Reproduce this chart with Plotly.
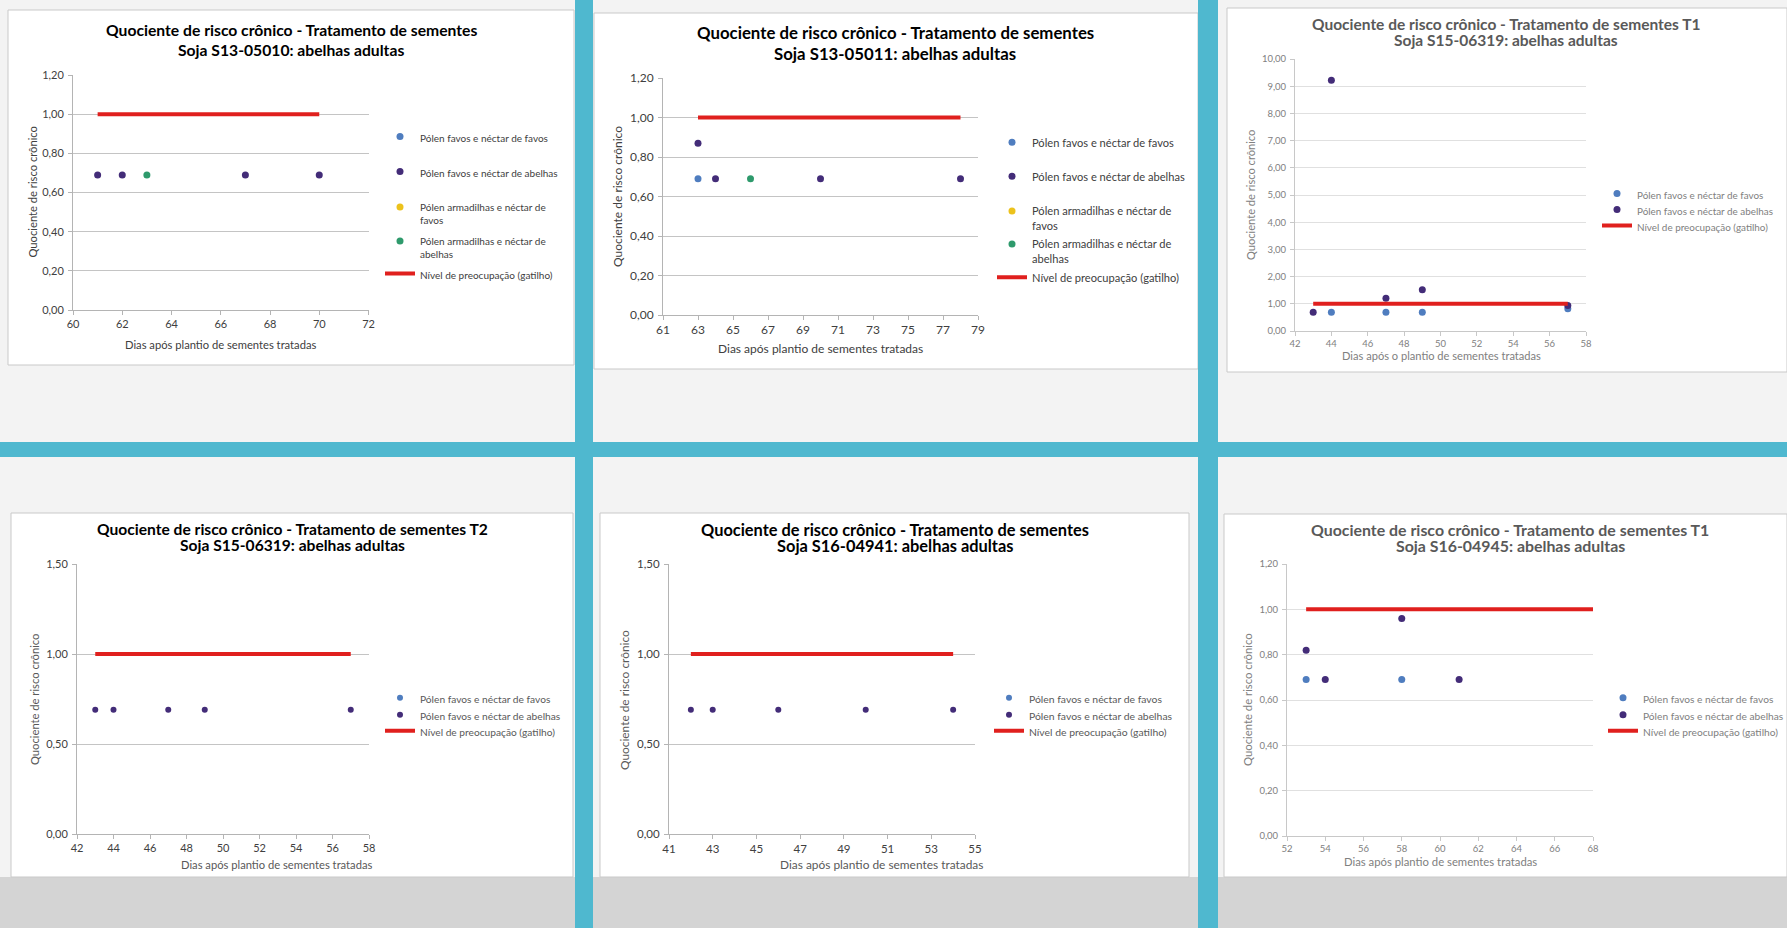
import plotly.graph_objects as go

W, H = 1787, 928
FONT = "Lato"

# ---- text ----
TITLE_LINE1 = [
    "Quociente de risco crônico - Tratamento de sementes",
    "Quociente de risco crônico - Tratamento de sementes",
    "Quociente de risco crônico - Tratamento de sementes T1",
    "Quociente de risco crônico - Tratamento de sementes T2",
    "Quociente de risco crônico - Tratamento de sementes",
    "Quociente de risco crônico - Tratamento de sementes T1",
]
TITLE_LINE2 = [
    "Soja S13-05010: abelhas adultas",
    "Soja S13-05011: abelhas adultas",
    "Soja S15-06319: abelhas adultas",
    "Soja S15-06319: abelhas adultas",
    "Soja S16-04941: abelhas adultas",
    "Soja S16-04945: abelhas adultas",
]
Y_TITLE = "Quociente de risco crônico"
X_TITLES = [
    "Dias após plantio de sementes tratadas",
    "Dias após plantio de sementes tratadas",
    "Dias após o plantio de sementes tratadas",
    "Dias após plantio de sementes tratadas",
    "Dias após plantio de sementes tratadas",
    "Dias após plantio de sementes tratadas",
]

NAME_FAVOS = "Pólen favos e néctar de favos"
NAME_ABELHAS = "Pólen favos e néctar de abelhas"
NAME_ARM_FAVOS = "Pólen armadilhas e néctar de<br>favos"
NAME_ARM_ABELHAS = "Pólen armadilhas e néctar de<br>abelhas"
NAME_GATILHO = "Nível de preocupação (gatilho)"

# ---- data: days after planting (x) and chronic risk quotient (y) ----
# Soja S13-05010
p1_favos_x, p1_favos_y = [], []
p1_abelhas_x, p1_abelhas_y = [61, 62, 67, 70], [0.69, 0.69, 0.69, 0.69]
p1_arm_favos_x, p1_arm_favos_y = [], []
p1_arm_abelhas_x, p1_arm_abelhas_y = [63], [0.69]
p1_gatilho_x, p1_gatilho_y = [61, 70], [1.00, 1.00]

# Soja S13-05011
p2_favos_x, p2_favos_y = [63], [0.69]
p2_abelhas_x, p2_abelhas_y = [63, 64, 70, 78], [0.87, 0.69, 0.69, 0.69]
p2_arm_favos_x, p2_arm_favos_y = [], []
p2_arm_abelhas_x, p2_arm_abelhas_y = [66], [0.69]
p2_gatilho_x, p2_gatilho_y = [63, 78], [1.00, 1.00]

# Soja S15-06319 T1
p3_favos_x, p3_favos_y = [44, 47, 49, 57], [0.69, 0.69, 0.69, 0.82]
p3_abelhas_x, p3_abelhas_y = [43, 44, 47, 49, 57], [0.69, 9.22, 1.20, 1.52, 0.94]
p3_gatilho_x, p3_gatilho_y = [43, 57], [1.00, 1.00]

# Soja S15-06319 T2
p4_favos_x, p4_favos_y = [], []
p4_abelhas_x, p4_abelhas_y = [43, 44, 47, 49, 57], [0.69, 0.69, 0.69, 0.69, 0.69]
p4_gatilho_x, p4_gatilho_y = [43, 57], [1.00, 1.00]

# Soja S16-04941
p5_favos_x, p5_favos_y = [], []
p5_abelhas_x, p5_abelhas_y = [42, 43, 46, 50, 54], [0.69, 0.69, 0.69, 0.69, 0.69]
p5_gatilho_x, p5_gatilho_y = [42, 54], [1.00, 1.00]

# Soja S16-04945 T1
p6_favos_x, p6_favos_y = [53, 58], [0.69, 0.69]
p6_abelhas_x, p6_abelhas_y = [53, 54, 58, 61], [0.82, 0.69, 0.96, 0.69]
p6_gatilho_x, p6_gatilho_y = [53, 68], [1.00, 1.00]

# axis ranges and tick steps per chart
X_RANGES = [(60, 72), (61, 79), (42, 58), (42, 58), (41, 55), (52, 68)]
X_TICK0 = [60, 61, 42, 42, 41, 52]
X_DTICK = [2, 2, 2, 2, 2, 2]
Y_RANGES = [(0, 1.2), (0, 1.2), (0, 10), (0, 1.5), (0, 1.5), (0, 1.2)]
Y_DTICK = [0.2, 0.2, 1, 0.5, 0.5, 0.2]

# ---- colours ----
C_FAVOS = "#4f7dbf"
C_ABELHAS = "#432c78"
C_ARM_FAVOS = "#ecc21c"
C_ARM_ABELHAS = "#2e9a6c"
C_GATILHO = "#e0201e"
C_BAND = "#4fb8cf"

SERIES = [
    [(NAME_FAVOS, C_FAVOS, p1_favos_x, p1_favos_y),
     (NAME_ABELHAS, C_ABELHAS, p1_abelhas_x, p1_abelhas_y),
     (NAME_ARM_FAVOS, C_ARM_FAVOS, p1_arm_favos_x, p1_arm_favos_y),
     (NAME_ARM_ABELHAS, C_ARM_ABELHAS, p1_arm_abelhas_x, p1_arm_abelhas_y),
     (NAME_GATILHO, C_GATILHO, p1_gatilho_x, p1_gatilho_y)],
    [(NAME_FAVOS, C_FAVOS, p2_favos_x, p2_favos_y),
     (NAME_ABELHAS, C_ABELHAS, p2_abelhas_x, p2_abelhas_y),
     (NAME_ARM_FAVOS, C_ARM_FAVOS, p2_arm_favos_x, p2_arm_favos_y),
     (NAME_ARM_ABELHAS, C_ARM_ABELHAS, p2_arm_abelhas_x, p2_arm_abelhas_y),
     (NAME_GATILHO, C_GATILHO, p2_gatilho_x, p2_gatilho_y)],
    [(NAME_FAVOS, C_FAVOS, p3_favos_x, p3_favos_y),
     (NAME_ABELHAS, C_ABELHAS, p3_abelhas_x, p3_abelhas_y),
     (NAME_GATILHO, C_GATILHO, p3_gatilho_x, p3_gatilho_y)],
    [(NAME_FAVOS, C_FAVOS, p4_favos_x, p4_favos_y),
     (NAME_ABELHAS, C_ABELHAS, p4_abelhas_x, p4_abelhas_y),
     (NAME_GATILHO, C_GATILHO, p4_gatilho_x, p4_gatilho_y)],
    [(NAME_FAVOS, C_FAVOS, p5_favos_x, p5_favos_y),
     (NAME_ABELHAS, C_ABELHAS, p5_abelhas_x, p5_abelhas_y),
     (NAME_GATILHO, C_GATILHO, p5_gatilho_x, p5_gatilho_y)],
    [(NAME_FAVOS, C_FAVOS, p6_favos_x, p6_favos_y),
     (NAME_ABELHAS, C_ABELHAS, p6_abelhas_x, p6_abelhas_y),
     (NAME_GATILHO, C_GATILHO, p6_gatilho_x, p6_gatilho_y)],
]

# ---- page geometry (pixels) ----
BOXES = [(8, 10, 574, 365), (594, 13, 1198, 369), (1227, 8, 1787, 372),
         (11, 513, 573, 877), (600, 513, 1189, 877), (1224, 514, 1787, 877)]
PLOT_X = [(73, 368.5), (663, 978), (1295, 1586), (77, 369), (669, 975), (1287, 1593)]
PLOT_Y = [(75, 310), (78, 315), (59, 331), (564, 834), (564, 834), (564, 836)]
TITLE_POS = [(291, 30, 50), (895, 33, 53), (1506, 24, 40), (292, 529, 545), (895, 529, 545), (1510, 529, 545)]
YTITLE_POS = [(32.5, 192), (618, 197), (1250, 195), (34, 700), (624, 700), (1247, 700)]
XTITLE_POS = [(221, 344), (820, 348), (1441, 356), (277, 864), (881, 864), (1440, 861)]
LEGEND_X = [420, 1032, 1637, 420, 1029, 1643]
LEGEND_Y = [[138, 173, 207, 241, 275], [143, 177, 211, 244, 278], [195, 211, 227],
            [699, 716, 732], [699, 716, 732], [699, 716, 732]]

STYLE = [
    dict(title=15.7, tcol="#000000", tick=11, kcol="#404040", lab=11.2, lcol="#404040", leg=10, gcol="#404040",
         grid="#c4c4c4", axis="#b4b4b4", msize=7, lw=4),
    dict(title=16.8, tcol="#000000", tick=12, kcol="#404040", lab=12, lcol="#404040", leg=11.1, gcol="#404040",
         grid="#c4c4c4", axis="#b4b4b4", msize=7, lw=4),
    dict(title=15.5, tcol="#595959", tick=9.5, kcol="#808080", lab=11.1, lcol="#808080", leg=9.9, gcol="#808080",
         grid="#e0e0e0", axis="#c8c8c8", msize=7, lw=4),
    dict(title=15.6, tcol="#000000", tick=11, kcol="#404040", lab=11.2, lcol="#595959", leg=10.2, gcol="#595959",
         grid="#c4c4c4", axis="#b4b4b4", msize=6, lw=4),
    dict(title=16.4, tcol="#000000", tick=11.5, kcol="#404040", lab=11.9, lcol="#595959", leg=10.4, gcol="#595959",
         grid="#c4c4c4", axis="#b4b4b4", msize=6, lw=4),
    dict(title=15.9, tcol="#595959", tick=9.5, kcol="#808080", lab=11.3, lcol="#808080", leg=10.2, gcol="#808080",
         grid="#e0e0e0", axis="#c8c8c8", msize=7, lw=4),
]


def fx(px):
    return px / W


def fy(py):
    return 1 - py / H


fig = go.Figure()
shapes = []
annotations = []
layout = {}

# page background pieces
shapes.append(dict(type="rect", xref="paper", yref="paper", x0=0, x1=1, y0=fy(928), y1=fy(877),
                   fillcolor="#d4d4d4", line_width=0, layer="below"))
for (x0, y0, x1, y1) in BOXES:
    shapes.append(dict(type="rect", xref="paper", yref="paper", x0=fx(x0), x1=fx(x1), y0=fy(y1), y1=fy(y0),
                       fillcolor="#ffffff", line=dict(color="#c9c9c9", width=1), layer="below"))
for (x0, x1) in [(575, 593), (1198, 1218)]:
    shapes.append(dict(type="rect", xref="paper", yref="paper", x0=fx(x0), x1=fx(x1), y0=0, y1=1,
                       fillcolor=C_BAND, line_width=0, layer="below"))
shapes.append(dict(type="rect", xref="paper", yref="paper", x0=0, x1=1, y0=fy(457), y1=fy(442),
                   fillcolor=C_BAND, line_width=0, layer="below"))

legend_n = 0
for i in range(6):
    st = STYLE[i]
    ax = "" if i == 0 else str(i + 1)
    xa, ya = "xaxis" + ax, "yaxis" + ax
    layout[xa] = dict(
        domain=[fx(PLOT_X[i][0]), fx(PLOT_X[i][1])], range=list(X_RANGES[i]), anchor="y" + ax,
        tick0=X_TICK0[i], dtick=X_DTICK[i], tickmode="linear", showgrid=False, zeroline=False,
        showline=True, linecolor=st["axis"], linewidth=1, ticks="outside", ticklen=4,
        tickcolor=st["axis"], tickfont=dict(family=FONT, size=st["tick"], color=st["kcol"]),
    )
    layout[ya] = dict(
        domain=[fy(PLOT_Y[i][1]), fy(PLOT_Y[i][0])], range=list(Y_RANGES[i]), anchor="x" + ax,
        tick0=0, dtick=Y_DTICK[i], tickmode="linear", tickformat=".2f", showgrid=True,
        gridcolor=st["grid"], gridwidth=1, zeroline=False, showline=True, linecolor=st["axis"],
        linewidth=1, ticks="outside", ticklen=4, tickcolor=st["axis"],
        tickfont=dict(family=FONT, size=st["tick"], color=st["kcol"]), ticklabelstandoff=2,
    )

    for k, (name, color, xs, ys) in enumerate(SERIES[i]):
        legend_n += 1
        lname = "legend" if legend_n == 1 else f"legend{legend_n}"
        is_line = name == NAME_GATILHO
        px_x = list(xs) if xs else [None]
        px_y = list(ys) if ys else [None]
        if is_line:
            tr = go.Scatter(x=px_x, y=px_y, mode="lines", name=name,
                            line=dict(color=color, width=st["lw"]))
        else:
            tr = go.Scatter(x=px_x, y=px_y, mode="markers", name=name,
                            marker=dict(color=color, size=st["msize"], line_width=0))
        tr.update(xaxis="x" + ax, yaxis="y" + ax, legend=lname, showlegend=True, cliponaxis=False)
        fig.add_trace(tr)

        first_line = LEGEND_Y[i][k]
        n_lines = name.count("<br>") + 1
        centre = first_line + (n_lines - 1) * st["leg"] * 1.3 / 2
        layout[lname] = dict(
            x=fx(LEGEND_X[i] - 40), xanchor="left", y=fy(centre), yanchor="middle",
            bgcolor="rgba(0,0,0,0)", borderwidth=0, valign="top",
            font=dict(family=FONT, size=st["leg"], color=st["gcol"]),
        )

    # chart titles
    cx, ty1, ty2 = TITLE_POS[i]
    for txt, ty in ((TITLE_LINE1[i], ty1), (TITLE_LINE2[i], ty2)):
        annotations.append(dict(text=f"<b>{txt}</b>", x=fx(cx), y=fy(ty), xref="paper", yref="paper",
                                xanchor="center", yanchor="middle", showarrow=False,
                                font=dict(family=FONT, size=st["title"], color=st["tcol"])))
    # axis titles
    annotations.append(dict(text=Y_TITLE, x=fx(YTITLE_POS[i][0]), y=fy(YTITLE_POS[i][1]), xref="paper",
                            yref="paper", xanchor="center", yanchor="middle", showarrow=False, textangle=-90,
                            font=dict(family=FONT, size=st["lab"], color=st["lcol"])))
    annotations.append(dict(text=X_TITLES[i], x=fx(XTITLE_POS[i][0]), y=fy(XTITLE_POS[i][1]), xref="paper",
                            yref="paper", xanchor="center", yanchor="middle", showarrow=False,
                            font=dict(family=FONT, size=st["lab"], color=st["lcol"])))

fig.update_layout(
    width=W, height=H, margin=dict(l=0, r=0, t=0, b=0, pad=0, autoexpand=False),
    paper_bgcolor="#f3f3f3", plot_bgcolor="rgba(0,0,0,0)",
    separators=", ", shapes=shapes, annotations=annotations,
    font=dict(family=FONT), **layout,
)

# the page body keeps no default margin so the figure fills the window
fig.write_html(
    "out.html",
    post_script="document.documentElement.style.margin='0';document.body.style.margin='0';",
)
